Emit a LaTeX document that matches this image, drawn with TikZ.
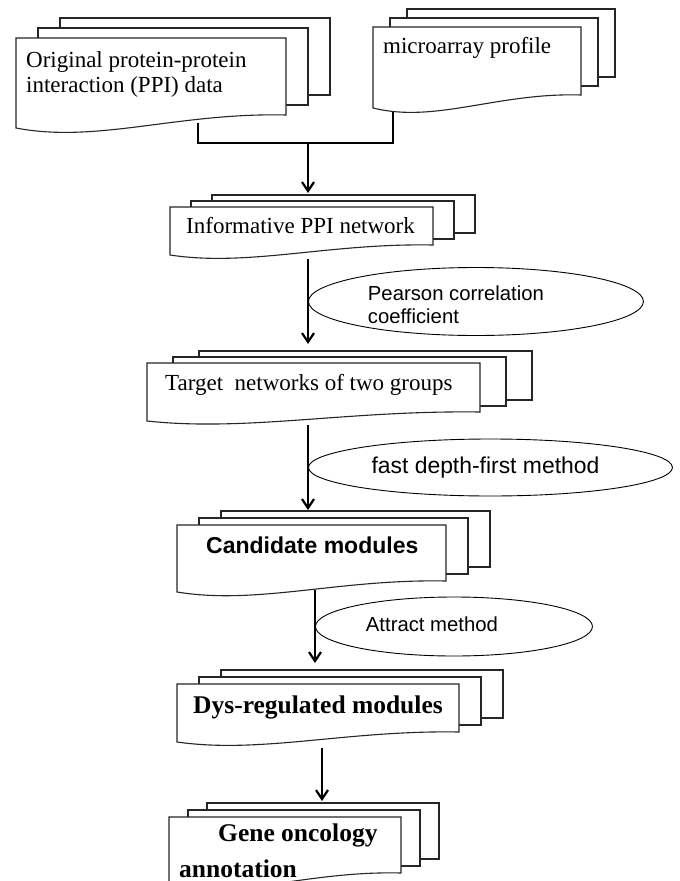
\documentclass[tikz,border=0pt]{standalone}
\usepackage{fontspec}
\setmainfont{Liberation Serif}
\setsansfont{Liberation Sans}
\usetikzlibrary{arrows.meta,calc,shapes.geometric}

\tikzset{
  sheet/.style={draw=black!85,line width=1.1pt,fill=white},
  doctext/.style={anchor=base west,inner sep=0pt,align=left,font=\fontsize{23}{25}\selectfont},
  boldtext/.style={doctext,font=\fontsize{25.5}{36}\selectfont\bfseries},
  sanstext/.style={inner sep=0pt,align=left,font=\fontsize{20.3}{23}\selectfont\sffamily},
  oval/.style={draw,ellipse,line width=0.9pt,anchor=west,inner sep=0pt},
  link/.style={line width=2.4pt},
  flow/.style={line width=2.2pt,-{Straight Barb[length=9pt,width=12pt]}}
}

% three stacked sheets: left, top, right, bottom right, bottom left, dx, dy
\newcommand{\docstack}[7]{
  \draw[sheet] ({#1+2*(#6)},{#2+2*(#7)}) rectangle ({#3+2*(#6)},{#4+2*(#7)});
  \draw[sheet] ({#1+(#6)},{#2+(#7)}) rectangle ({#3+(#6)},{#4+(#7)});
  \draw[sheet] (#1,#2) -- (#3,#2) -- (#3,#4) .. controls ({#1+0.6*(#3-#1)},{#4-0.2*(#5-#4)}) and ({#1+0.3*(#3-#1)},{#5+1.2*(#5-#4)}) .. (#1,#5) -- cycle;
}

\begin{document}
\begin{tikzpicture}[x=1pt,y=-1pt]
\clip (0,0) rectangle (680,881);
\fill[white] (0,0) rectangle (680,881);
% input data
\docstack{16}{38}{286}{115}{128}{22}{-10}
\docstack{373}{27}{581}{95}{108}{17}{-9}
\node[doctext] (ppi) at (26,92) {Original protein-protein\\interaction (PPI) data};
\node[doctext] (mic) at (383,53) {microarray profile};
\coordinate (ppi out) at (198,123);
\coordinate (mic out) at (393,112);
\coordinate (merge) at (308,143);
\coordinate (net in) at (308,193);
\draw[link] (ppi out) |- (merge) -| (mic out);
\draw[flow] (merge) -- (net in);
% informative network
\docstack{170}{207}{433}{245}{255}{21}{-6}
\node[doctext] (net) at (186,233) {Informative PPI network};
\coordinate (net out) at (308,259);
\coordinate (tgt in) at (308,344);
\draw[flow] (net out) -- (tgt in);
\node[oval,minimum width=335pt,minimum height=68pt] (pcc) at ($(net out)!0.5!(tgt in)$) {};
\node[sanstext] (pcc txt) at ([xshift=-20pt,yshift=-3pt]pcc.center) {Pearson correlation\\coefficient};
% target networks
\docstack{147}{363}{480}{412}{421}{26}{-6}
\node[doctext] (tgt) at (165,390) {Target\ \ networks of two groups};
\coordinate (tgt out) at (308,425);
\coordinate (cand in) at (308,510);
\draw[flow] (tgt out) -- (cand in);
\node[oval,minimum width=364pt,minimum height=57pt] (dfs) at ($(tgt out)!0.5!(cand in)$) {};
\node[sanstext,font=\fontsize{22.9}{25}\selectfont\sffamily] (dfs txt) at ([xshift=-5pt]dfs.center) {fast depth-first method};
% candidate modules
\docstack{177}{525}{446}{581}{592}{22}{-7}
\node[doctext,font=\fontsize{23}{25}\selectfont\sffamily\bfseries] (cand) at (206,553) {Candidate modules};
\coordinate (cand out) at (315,590);
\coordinate (dys in) at (315,663);
\draw[flow] (cand out) -- (dys in);
\node[oval,minimum width=277pt,minimum height=59pt] (att) at ($(cand out)!0.5!(dys in)$) {};
\node[sanstext] (att txt) at ([xshift=-22pt,yshift=2pt]att.center) {Attract method};
% dys-regulated modules
\docstack{177}{684}{459}{732}{742}{22}{-7}
\node[boldtext] (dys) at (193,713) {Dys-regulated modules};
\coordinate (dys out) at (322,748);
\coordinate (gene in) at (322,801);
\draw[flow] (dys out) -- (gene in);
% annotation
\docstack{169}{817}{401}{873}{885}{19}{-7}
\node[boldtext] (gene) at (179,877) {\hspace*{39pt}Gene oncology\\annotation};
\end{tikzpicture}
\end{document}
